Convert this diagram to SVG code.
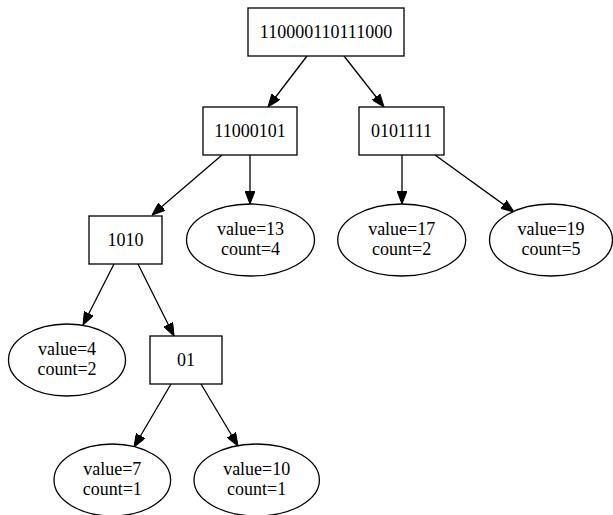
<svg xmlns="http://www.w3.org/2000/svg" width="613" height="515" viewBox="0 0 613 515">
<style>
.n{fill:#fff;stroke:#000;stroke-width:1.3}
.t{font-family:"Liberation Serif","Times New Roman",serif;font-size:18px;text-anchor:middle;fill:#000}
.e{stroke:#000;stroke-width:1.3;fill:none}
</style>
<defs>
<marker id="ah" viewBox="0 0 13 10" refX="13" refY="5" markerWidth="13" markerHeight="10" markerUnits="userSpaceOnUse" orient="auto">
<path d="M0,0 L13,5 L0,10 z" fill="#000" stroke="#000" stroke-width="1"/>
</marker>
</defs>
<rect width="613" height="515" fill="#fff"/>
<g id="edges">
<line class="e" x1="307" y1="56" x2="268" y2="107" marker-end="url(#ah)"/>
<line class="e" x1="344" y1="56" x2="384" y2="107" marker-end="url(#ah)"/>
<line class="e" x1="222" y1="155" x2="152" y2="215" marker-end="url(#ah)"/>
<line class="e" x1="250" y1="155" x2="250" y2="204" marker-end="url(#ah)"/>
<line class="e" x1="402" y1="155" x2="402" y2="204" marker-end="url(#ah)"/>
<line class="e" x1="435" y1="155" x2="514" y2="212" marker-end="url(#ah)"/>
<line class="e" x1="114" y1="264" x2="83" y2="325" marker-end="url(#ah)"/>
<line class="e" x1="138" y1="264" x2="174" y2="336" marker-end="url(#ah)"/>
<line class="e" x1="171" y1="384" x2="134" y2="447" marker-end="url(#ah)"/>
<line class="e" x1="201" y1="384" x2="238" y2="446" marker-end="url(#ah)"/>
</g>
<g id="root"><rect class="n" x="248" y="8" width="156" height="48"/><text class="t" x="326" y="38">110000110111000</text></g>
<g id="n11000101"><rect class="n" x="203" y="107" width="94" height="48"/><text class="t" x="250" y="137">11000101</text></g>
<g id="n0101111"><rect class="n" x="359" y="107" width="85" height="48"/><text class="t" x="401.5" y="137">0101111</text></g>
<g id="n1010"><rect class="n" x="89" y="216" width="73" height="48"/><text class="t" x="125.5" y="246">1010</text></g>
<g id="n01"><rect class="n" x="150" y="336" width="72" height="48"/><text class="t" x="186" y="366">01</text></g>
<g id="v13"><ellipse class="n" cx="250.5" cy="240" rx="64" ry="36"/><text class="t" x="250.5" y="235">value=13</text><text class="t" x="250.5" y="254.5">count=4</text></g>
<g id="v17"><ellipse class="n" cx="401.7" cy="240" rx="64" ry="36"/><text class="t" x="401.7" y="235">value=17</text><text class="t" x="401.7" y="254.5">count=2</text></g>
<g id="v19"><ellipse class="n" cx="551" cy="240" rx="61.5" ry="36"/><text class="t" x="551" y="235">value=19</text><text class="t" x="551" y="254.5">count=5</text></g>
<g id="v4"><ellipse class="n" cx="67" cy="360" rx="58.5" ry="36"/><text class="t" x="67" y="355">value=4</text><text class="t" x="67" y="374.5">count=2</text></g>
<g id="v7"><ellipse class="n" cx="112.3" cy="480" rx="58.3" ry="36"/><text class="t" x="112.3" y="475">value=7</text><text class="t" x="112.3" y="494.5">count=1</text></g>
<g id="v10"><ellipse class="n" cx="256.7" cy="480" rx="62.7" ry="36"/><text class="t" x="256.7" y="475">value=10</text><text class="t" x="256.7" y="494.5">count=1</text></g>
</svg>
